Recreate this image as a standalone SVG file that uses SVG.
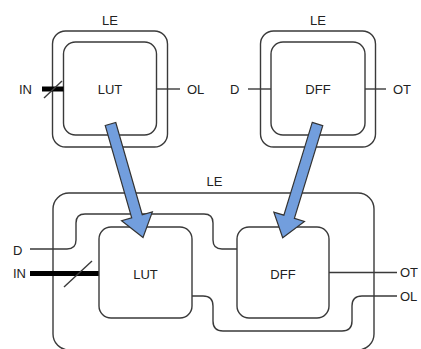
<svg xmlns="http://www.w3.org/2000/svg" width="421" height="349" viewBox="0 0 421 349">
<style>
.box{fill:#fff;stroke:#3a3a3a;stroke-width:1.4}
.w{fill:none;stroke:#3a3a3a;stroke-width:1.4}
.bus{fill:none;stroke:#000;stroke-width:5}
.t{font-family:"Liberation Sans",Arial,sans-serif;font-size:13px;fill:#222}
.m{text-anchor:middle}
.e{text-anchor:end}
.arr{fill:#729edd;stroke:#333;stroke-width:1.2;stroke-linejoin:miter}
</style>
<rect width="421" height="349" fill="#fff"/>
<g id="le-top-left">
<rect class="box" x="52.5" y="31" width="115" height="116" rx="13"/>
<rect class="box" x="63.5" y="42" width="93" height="93" rx="12"/>
<text class="t m" x="110" y="25">LE</text>
<text class="t m" x="110" y="93.5">LUT</text>
<text class="t e" x="32" y="94">IN</text>
<text class="t" x="187" y="94">OL</text>
</g>
<g id="le-top-right">
<rect class="box" x="260.5" y="31" width="115" height="116" rx="13"/>
<rect class="box" x="271" y="42" width="94" height="93" rx="12"/>
<text class="t m" x="318" y="25">LE</text>
<text class="t m" x="318" y="93.5">DFF</text>
<text class="t" x="230" y="94">D</text>
<text class="t" x="393" y="94">OT</text>
</g>
<g id="le-bottom">
<rect class="box" x="53" y="193" width="321" height="157" rx="16"/>
<text class="t m" x="214.5" y="186">LE</text>
<text class="t" x="13" y="255">D</text>
<text class="t e" x="26" y="278">IN</text>
<text class="t" x="400" y="277">OT</text>
<text class="t" x="400" y="301">OL</text>
</g>
<g id="connectors">
<line class="bus" x1="42" y1="89" x2="63.5" y2="89"/>
<line class="w" x1="44" y1="98" x2="62" y2="81"/>
<line class="w" x1="156.5" y1="89" x2="180" y2="89"/>
<line class="w" x1="248" y1="89" x2="271" y2="89"/>
<line class="w" x1="365" y1="89" x2="386" y2="89"/>
<path class="w" d="M30,249 H67 Q76,249 76,240 V223 Q76,214 85,214 H204 Q213,214 213,223 V240 Q213,249 222,249 H237"/>
<line class="bus" x1="30" y1="273.5" x2="99" y2="273.5"/>
<line class="w" x1="64" y1="287" x2="92" y2="261"/>
<path class="w" d="M192,296 H203 Q213,296 213,306 V321 Q213,331 223,331 H342 Q352,331 352,321 V306 Q352,296 362,296 H397"/>
<line class="w" x1="329" y1="272.5" x2="397" y2="272.5"/>
</g>
<g id="lut-bottom">
<rect class="box" x="99" y="227" width="93" height="91" rx="12"/>
<text class="t m" x="145.5" y="278.5">LUT</text>
</g>
<g id="dff-bottom">
<rect class="box" x="237" y="227" width="92" height="91" rx="12"/>
<text class="t m" x="283" y="278.5">DFF</text>
</g>
<g id="arrows">
<polygon class="arr" transform="translate(110.5,124) rotate(-16)" points="-5.5,0 5.5,0 5.5,96 16,96 0,118 -16,96 -5.5,96"/>
<polygon class="arr" transform="translate(317.5,124) rotate(17)" points="-5.5,0 5.5,0 5.5,97 16,97 0,119 -16,97 -5.5,97"/>
</g>
</svg>
